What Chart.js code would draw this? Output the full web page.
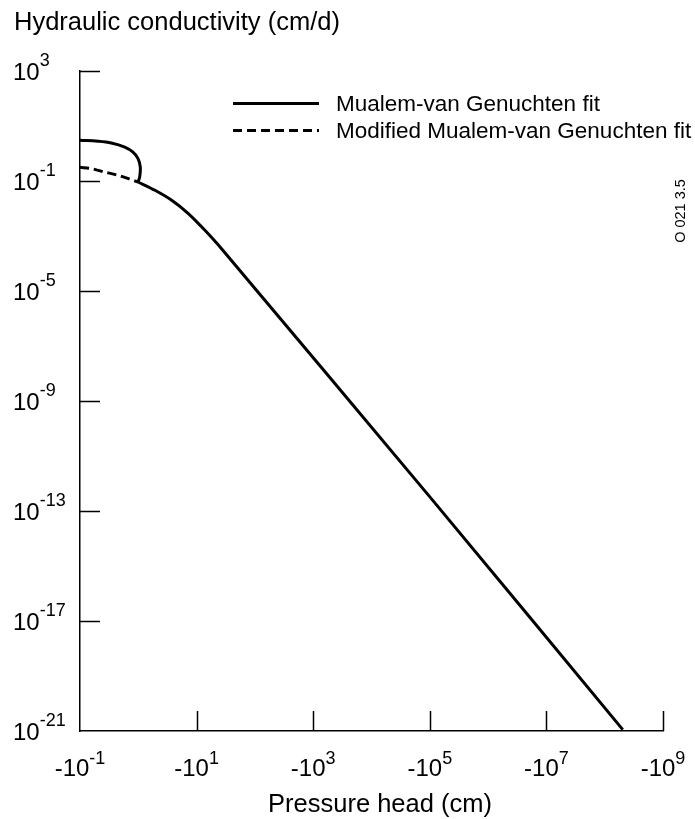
<!DOCTYPE html>
<html><head><meta charset="utf-8">
<script src="https://cdn.jsdelivr.net/npm/chart.js@4.4.0/dist/chart.umd.min.js"></script>
<style>html,body{margin:0;padding:0;background:#fff;overflow:hidden}#wrap{width:695px;height:819px;position:relative}canvas{display:block}</style>
</head><body><div id="wrap"><canvas id="c" width="695" height="819"></canvas></div>
<script>
// Suction |h| (cm, plotted as -h) and hydraulic conductivity K (cm/d)
// Mualem-van Genuchten fit: near-saturation part and dry part (same series)
const suctionMvGWet = [0.1, 0.204, 0.344, 0.585, 0.811, 0.989, 1.081, 1.056, 0.989];
const kMvGWet       = [3.02, 2.78, 2.41, 1.72, 1.13, 0.653, 0.323, 0.140, 0.092];
const suctionMvGDry = [0.989, 1.93, 3.74, 7.21, 13.9, 27.0, 1.01e5, 2.04e8];
const kMvGDry       = [0.092, 0.0459, 0.0199, 6.53e-3, 1.61e-3, 3.37e-4, 3.2e-13, 1.12e-21];
// Modified Mualem-van Genuchten fit (differs only near saturation)
const suctionMod = [0.1, 0.156, 0.265, 0.449, 0.759, 0.989];
const kMod       = [0.315, 0.282, 0.212, 0.161, 0.112, 0.092];
const seriesNames = ['Mualem-van Genuchten fit', 'Modified Mualem-van Genuchten fit'];
const xTickValues = [1e-1, 1e1, 1e3, 1e5, 1e7, 1e9];
const xTickExponents = ['-1', '1', '3', '5', '7', '9'];
const yTickValues = [1e3, 1e-1, 1e-5, 1e-9, 1e-13, 1e-17, 1e-21];
const yTickExponents = ['3', '-1', '-5', '-9', '-13', '-17', '-21'];
const yTitle = 'Hydraulic conductivity (cm/d)';
const xTitle = 'Pressure head (cm)';
const figureCode = 'O 021 3.5';

const FONT = '"Liberation Sans", Arial, Helvetica, sans-serif';
const BASE_PX = 24, EXP_PX = 18, TITLE_PX = 25.5, LEGEND_PX = 22.5;
const DASH = [9, 5];

function toPoints(xs, ys) { return xs.map((x, i) => ({x: x, y: ys[i]})); }

const decor = {
  id: 'decor',
  afterDraw(chart) {
    const {ctx, chartArea: a, scales: {x, y}} = chart;
    ctx.save();
    ctx.strokeStyle = '#000';
    ctx.fillStyle = '#000';
    ctx.lineWidth = 1.5;
    // inward tick marks
    ctx.beginPath();
    yTickValues.forEach(v => {
      const py = Math.round(y.getPixelForValue(v)) + 0.5;
      if (Math.abs(py - a.bottom) > 2) { ctx.moveTo(a.left, py); ctx.lineTo(a.left + 20, py); }
    });
    xTickValues.forEach(v => {
      const px = Math.round(x.getPixelForValue(v)) + 0.5;
      if (Math.abs(px - a.left) > 2) { ctx.moveTo(px, a.bottom); ctx.lineTo(px, a.bottom - 20); }
    });
    ctx.stroke();

    ctx.textBaseline = 'alphabetic';
    ctx.textAlign = 'left';
    // y tick labels (left aligned)
    yTickValues.forEach((v, i) => {
      const py = y.getPixelForValue(v);
      ctx.font = BASE_PX + 'px ' + FONT;
      ctx.fillText('10', 13, py + 8.5);
      const w = ctx.measureText('10').width;
      ctx.font = EXP_PX + 'px ' + FONT;
      ctx.fillText(yTickExponents[i], 13 + w, py - 5);
    });
    // x tick labels (centred)
    xTickValues.forEach((v, i) => {
      const px = x.getPixelForValue(v);
      ctx.font = BASE_PX + 'px ' + FONT;
      const wb = ctx.measureText('-10').width;
      ctx.font = EXP_PX + 'px ' + FONT;
      const we = ctx.measureText(xTickExponents[i]).width;
      const start = px - (wb + we) / 2;
      ctx.font = BASE_PX + 'px ' + FONT;
      ctx.fillText('-10', start, a.bottom + 44.5);
      ctx.font = EXP_PX + 'px ' + FONT;
      ctx.fillText(xTickExponents[i], start + wb, a.bottom + 32.5);
    });
    // titles
    ctx.font = TITLE_PX + 'px ' + FONT;
    ctx.fillText(yTitle, 14, 29.5);
    ctx.textAlign = 'center';
    ctx.fillText(xTitle, 380, 811.5);

    // legend
    const rows = [103.5, 130.5];
    seriesNames.forEach((name, i) => {
      ctx.save();
      ctx.lineWidth = 3;
      ctx.setLineDash(i === 1 ? DASH : []);
      ctx.beginPath();
      ctx.moveTo(233, rows[i]); ctx.lineTo(319, rows[i]);
      ctx.stroke();
      ctx.restore();
      ctx.textAlign = 'left';
      ctx.textBaseline = 'middle';
      ctx.font = LEGEND_PX + 'px ' + FONT;
      ctx.fillText(name, 336, rows[i] + 1);
    });

    // figure code (rotated)
    ctx.save();
    ctx.translate(681, 211);
    ctx.rotate(-Math.PI / 2);
    ctx.textAlign = 'center';
    ctx.textBaseline = 'middle';
    ctx.font = '14.5px ' + FONT;
    ctx.fillText(figureCode, 0, 0);
    ctx.restore();
    ctx.restore();
  }
};

const lineStyle = {borderColor: '#000', borderWidth: 3, pointRadius: 0, fill: false, borderJoinStyle: 'round'};

new Chart(document.getElementById('c'), {
  type: 'line',
  data: {
    datasets: [
      Object.assign({label: seriesNames[0], data: toPoints(suctionMvGWet, kMvGWet), tension: 0.35}, lineStyle),
      Object.assign({label: seriesNames[0], data: toPoints(suctionMvGDry, kMvGDry), tension: 0.3}, lineStyle),
      Object.assign({label: seriesNames[1], data: toPoints(suctionMod, kMod), tension: 0.3, borderDash: DASH}, lineStyle)
    ]
  },
  options: {
    responsive: false,
    animation: false,
    devicePixelRatio: 1,
    layout: {padding: {left: 80, right: 32, top: 71, bottom: 88}},
    plugins: {legend: {display: false}, tooltip: {enabled: false}},
    scales: {
      x: {type: 'logarithmic', min: 1e-1, max: 1e9,
          ticks: {display: false}, grid: {display: false, drawTicks: false},
          border: {display: true, color: '#000', width: 1.5}},
      y: {type: 'logarithmic', min: 1e-21, max: 1e3,
          ticks: {display: false}, grid: {display: false, drawTicks: false},
          border: {display: true, color: '#000', width: 1.5}}
    }
  },
  plugins: [decor]
});
</script></body></html>
